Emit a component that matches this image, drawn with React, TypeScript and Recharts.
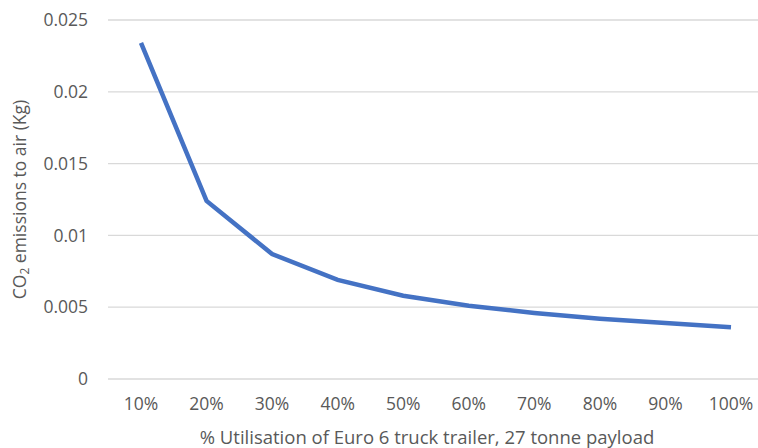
import React from 'react';
import { LineChart, Line, XAxis, YAxis, CartesianGrid } from 'recharts';

const utilisation = ['10%', '20%', '30%', '40%', '50%', '60%', '70%', '80%', '90%', '100%'];
const co2Kg = [0.0234, 0.0124, 0.0087, 0.0069, 0.0058, 0.0051, 0.0046, 0.0042, 0.0039, 0.0036];
const yTicks = [0, 0.005, 0.01, 0.015, 0.02, 0.025];

const data = utilisation.map((u, i) => ({ u, co2: co2Kg[i] }));

const FONT = '"Open Sans", "Noto Sans", sans-serif';
const GREY = '#595959';

// rotated y title with subscript 2
function YTitle(props: any) {
    const vb = props.viewBox || {};
    const cx = 19;
    const cy = vb.y + vb.height / 2;
    return (
        <text
            x={cx}
            y={cy}
            transform={`rotate(-90, ${cx}, ${cy})`}
            textAnchor="middle"
            dominantBaseline="central"
            fill={GREY}
            fontSize={17.5}
            fontFamily={FONT}
        >
            CO<tspan fontSize={12} dy={5}>2</tspan>
            <tspan dy={-5}> emissions to air (Kg)</tspan>
        </text>
    );
}

function XTitle(props: any) {
    const vb = props.viewBox || {};
    return (
        <text
            x={427}
            y={vb.y + vb.height - 12}
            textAnchor="middle"
            dominantBaseline="central"
            fill={GREY}
            fontSize={18.5}
            fontFamily={FONT}
        >
            % Utilisation of Euro 6 truck trailer, 27 tonne payload
        </text>
    );
}

export default function App() {
    return (
        <div style={{ position: 'fixed', left: 0, top: 0, width: 758, height: 448, overflow: 'hidden', background: '#fff' }}>
            <LineChart width={764} height={448} data={data} margin={{ top: 20, right: 0, bottom: 0, left: 0 }}>
                <CartesianGrid vertical={false} stroke="#D9D9D9" strokeWidth={1.3} />
                <XAxis
                    dataKey="u"
                    height={69}
                    padding={{ left: 33, right: 33 }}
                    axisLine={false}
                    tickLine={false}
                    tickSize={0}
                    tickMargin={19}
                    tick={{ fill: GREY, fontSize: 17.5, fontFamily: FONT }}
                    label={{ content: XTitle }}
                />
                <YAxis
                    width={108}
                    domain={[0, 0.025]}
                    ticks={yTicks}
                    axisLine={false}
                    tickLine={false}
                    tickSize={0}
                    tickMargin={20}
                    tick={{ fill: GREY, fontSize: 17.5, fontFamily: FONT }}
                    label={{ content: YTitle }}
                />
                <Line
                    type="linear"
                    dataKey="co2"
                    stroke="#4472C4"
                    strokeWidth={4.5}
                    dot={false}
                    isAnimationActive={false}
                />
            </LineChart>
        </div>
    );
}
